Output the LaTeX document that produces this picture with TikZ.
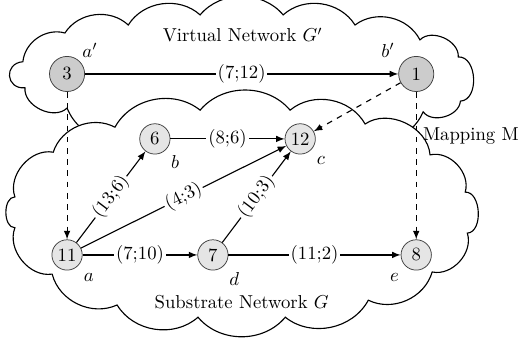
\documentclass[tikz,border=0pt]{standalone}
\usepackage{amsmath, amssymb}

\begin{document}
\begin{tikzpicture}[
        vnode/.style={circle, draw=black!75, fill=black!20, minimum size=0.66cm, inner sep=0pt},
        snode/.style={circle, draw=black!75, fill=black!10, minimum size=0.57cm, inner sep=0pt},
        cloudline/.style={draw, fill=white, semithick},
        puff/.style={bend left=50},
        bulge/.style={bend left=90, looseness=1.4},
        cost/.style={fill=white, inner sep=1pt},
        >=latex
    ]
    \useasboundingbox (0,0) rectangle (9.77,6.39);

    % Virtual network cloud (its bottom is hidden by the substrate cloud)
    \draw[cloudline] (0.47,4.74) to[bulge, looseness=1.9] (0.43,5.23) to[puff] (1.22,5.77)
        to[puff] (2.41,5.92) to[puff] (3.76,6.11) to[puff] (5.32,6.11) to[puff] (6.67,5.92)
        to[puff] (7.89,5.64) to[puff, bend left=70] (8.61,5.32) to[bulge, looseness=1.1] (8.65,4.49)
        to[puff, bend left=70] (7.95,4.29) to[puff] (6.58,3.85) to[puff] (4.70,3.76)
        to[puff] (2.82,3.85) to[puff] (1.26,4.36) to[puff, bend left=70] cycle;

    % Substrate network cloud
    \draw[cloudline] (1.00,3.53) to[puff] (2.16,4.00) to[puff] (3.76,4.32) to[puff] (5.45,4.32)
        to[puff] (6.86,4.06) to[puff, bend left=60] (8.08,3.48) to[puff, bend left=60] (8.74,2.78)
        to[bulge, looseness=1] (8.78,2.01) to[puff, bend left=60] (8.12,1.28) to[puff] (6.92,0.75)
        to[puff] (5.36,0.43) to[puff] (3.72,0.43) to[puff] (2.20,0.66) to[puff] (0.98,1.24)
        to[puff, bend left=60] (0.28,2.11) to[bulge, looseness=1] (0.28,2.69) to[puff, bend left=60] cycle;

    \node (vtitle) at (4.56,5.73) {Virtual Network $G'$};
    \node (stitle) at (4.54,0.71) {Substrate Network $G$};

    % Virtual network
    \node[vnode] (v3) at (1.26,5.00) {3};
    \node[vnode] (v1) at (7.82,5.00) {1};
    \node (lva) at (1.69,5.45) {$a'$};
    \node (lvb) at (7.29,5.45) {$b'$};

    \draw[->, semithick] (v3) -- node[cost] {(7;12)} (v1);

    % Substrate network
    \node[snode] (s11) at (1.26,1.60) {11};
    \node[snode] (s6) at (2.91,3.78) {6};
    \node[snode] (s12) at (5.64,3.78) {12};
    \node[snode] (s7) at (4.00,1.60) {7};
    \node[snode] (s8) at (7.82,1.60) {8};
    \node (la) at (1.67,1.17) {$a$};
    \node (lb) at (3.29,3.35) {$b$};
    \node (lc) at (6.03,3.38) {$c$};
    \node (ld) at (4.40,1.15) {$d$};
    \node (le) at (7.41,1.17) {$e$};

    \draw[->, semithick] (s11) -- node[cost, sloped] {(13;6)} (s6);
    \draw[->, semithick] (s11) -- node[cost, sloped] {(4;3)} (s12);
    \draw[->, semithick] (s11) -- node[cost] {(7;10)} (s7);
    \draw[->, semithick] (s6) -- node[cost] {(8;6)} (s12);
    \draw[->, semithick] (s7) -- node[cost, sloped] {(10;3)} (s12);
    \draw[->, semithick] (s7) -- node[cost] {(11;2)} (s8);

    % Mapping M
    \draw[->, semithick, dashed] (v3) -- (s11);
    \draw[->, semithick, dashed] (v1) -- (s12);
    \draw[->, semithick, dashed] (v1) -- node[pos=0.3, right] {Mapping M} (s8);

\end{tikzpicture}
\end{document}
